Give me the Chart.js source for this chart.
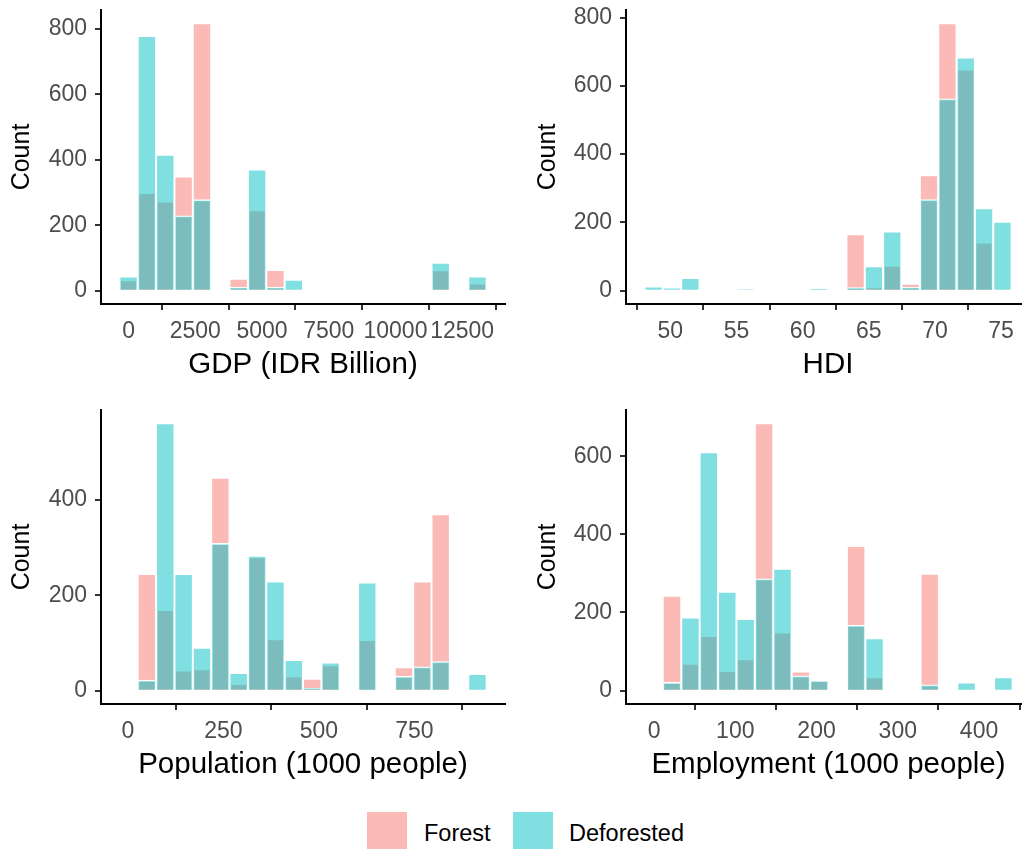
<!DOCTYPE html>
<html><head><meta charset="utf-8">
<script src="https://cdn.jsdelivr.net/npm/chart.js@4"></script>
<style>
html,body{margin:0;padding:0;width:1022px;height:849px;overflow:hidden;background:#fff;}
canvas{position:absolute;}
.sw{position:absolute;width:40px;height:40px;}
.lt{position:absolute;font-family:'Liberation Sans',Arial,sans-serif;font-size:23.5px;color:#000;line-height:26px;}
</style></head><body>
<canvas id="c1" width="511" height="384" style="left:0;top:0"></canvas>
<canvas id="c2" width="529" height="384" style="left:511px;top:0"></canvas>
<canvas id="c3" width="511" height="384" style="left:0;top:400px"></canvas>
<canvas id="c4" width="529" height="384" style="left:511px;top:400px"></canvas>
<div class="sw" style="left:367px;top:812px;background:rgba(248,118,109,0.5)"></div>
<div class="lt" style="left:424px;top:820px">Forest</div>
<div class="sw" style="left:513px;top:812px;background:rgba(0,191,196,0.5)"></div>
<div class="lt" style="left:569px;top:820px">Deforested</div>
<script>
// ---- data ----
const gdpCenters = [0, 688, 1376, 2064, 2752, 3440, 4128, 4816, 5504, 6192, 6880, 7568, 8256, 8944, 9632, 10320, 11008, 11696, 12384, 13072];
const gdpForest = [32, 298, 272, 349, 817, 0, 36, 246, 63, 0, 0, 0, 0, 0, 0, 0, 0, 62, 0, 22];
const gdpDeforested = [43, 778, 415, 229, 278, 0, 11, 370, 11, 33, 0, 0, 0, 0, 0, 0, 0, 85, 0, 43];
const gdpTicks = [0, 2500, 5000, 7500, 10000, 12500];

const hdiCenters = [48.73, 50.12, 51.51, 52.89, 54.28, 55.67, 57.06, 58.45, 59.83, 61.22, 62.61, 64.00, 65.39, 66.77, 68.16, 69.55, 70.94, 72.33, 73.71, 75.10];
const hdiForest = [0, 0, 0, 0, 0, 0, 0, 0, 0, 0, 0, 165, 9, 73, 20, 338, 783, 648, 141, 0];
const hdiDeforested = [12, 7, 37, 0, 0, 3, 0, 0, 0, 5, 0, 9, 71, 173, 10, 267, 562, 683, 241, 202];
const hdiTicks = [50, 55, 60, 65, 70, 75];

const popCenters = [1.52, 49.60, 97.68, 145.76, 193.84, 241.92, 290.00, 338.08, 386.16, 434.24, 482.32, 530.40, 578.48, 626.56, 674.64, 722.72, 770.80, 818.88, 866.96, 915.04];
const popForest = [0, 245, 169, 42, 45, 447, 14, 280, 108, 30, 25, 53, 0, 106, 0, 49, 229, 370, 0, 0];
const popDeforested = [0, 22, 561, 245, 90, 309, 37, 283, 229, 64, 5, 59, 0, 227, 0, 30, 50, 61, 0, 35];
const popTicks = [0, 250, 500, 750];

const empCenters = [-0.56, 22.10, 44.76, 67.42, 90.08, 112.74, 135.40, 158.06, 180.72, 203.38, 226.04, 248.70, 271.36, 294.02, 316.68, 339.34, 362.00, 384.66, 407.32, 429.98];
const empForest = [0, 243, 69, 140, 50, 80, 684, 149, 49, 26, 0, 370, 34, 0, 0, 299, 0, 0, 0, 0];
const empDeforested = [0, 21, 187, 610, 253, 183, 286, 312, 38, 26, 0, 167, 134, 0, 0, 15, 0, 21, 0, 34];
const empTicks = [0, 100, 200, 300, 400];

const countTicksA = [0, 200, 400, 600, 800];
const countTicksB = [0, 200, 400];
const countTicksC = [0, 200, 400, 600];

const seriesNames = ['Forest', 'Deforested'];
const seriesColors = ['rgba(248,118,109,0.5)', 'rgba(0,191,196,0.5)'];

const FONT = 'Liberation Sans';

function makeChart(id, xTitle, centers, forest, deforested, xTicks, yTicks, yAxisWidth, yTitlePad, padRight) {
  const step = centers[1] - centers[0];
  const lo = centers[0] - step / 2, hi = centers[centers.length - 1] + step / 2;
  const ex = (hi - lo) * 0.05;
  const ymax = Math.max(...forest, ...deforested);
  // Forest drawn first (below), Deforested drawn on top
  const mk = (vals, i) => ({
    label: seriesNames[i],
    order: 1 - i,
    data: centers.map((c, k) => ({x: c, y: vals[k]})),
    backgroundColor: seriesColors[i],
    borderColor: '#ffffff',
    borderWidth: 1.3,
    barPercentage: 1,
    categoryPercentage: 1,
    grouped: false
  });
  new Chart(document.getElementById(id), {
    type: 'bar',
    data: {datasets: [mk(forest, 0), mk(deforested, 1)]},
    options: {
      responsive: false, animation: false, devicePixelRatio: 1,
      layout: {padding: {top: 10, right: padRight, left: 0, bottom: 0}},
      plugins: {legend: {display: false}, tooltip: {enabled: false}},
      scales: {
        x: {
          type: 'linear', min: lo - ex, max: hi + ex, offset: false,
          afterFit: s => { s.height = 80; s.paddingLeft = 0; s.paddingRight = 0; },
          afterBuildTicks: s => { s.ticks = xTicks.map(v => ({value: v})); },
          ticks: {autoSkip: false, maxRotation: 0, color: '#4D4D4D', font: {family: FONT, size: 23}, padding: 8, callback: v => String(v)},
          grid: {display: true, drawOnChartArea: false, drawTicks: true, tickLength: 6, color: '#333333', lineWidth: 2},
          border: {display: true, color: '#000000', width: 2},
          title: {display: true, text: xTitle, color: '#000000', font: {family: FONT, size: 29.5}, padding: {top: 0, bottom: 1}}
        },
        y: {
          type: 'linear', min: -0.05 * ymax, max: 1.05 * ymax,
          afterFit: s => { s.width = yAxisWidth; s.paddingTop = 0; s.paddingBottom = 0; },
          afterBuildTicks: s => { s.ticks = yTicks.map(v => ({value: v})); },
          ticks: {color: '#4D4D4D', font: {family: FONT, size: 23}, padding: 8, callback: v => String(v)},
          grid: {display: true, drawOnChartArea: false, drawTicks: true, tickLength: 6, color: '#333333', lineWidth: 2},
          border: {display: true, color: '#000000', width: 2},
          title: {display: true, text: 'Count', color: '#000000', font: {family: FONT, size: 25}, padding: {top: yTitlePad, bottom: 0}}
        }
      }
    }
  });
}

makeChart('c1', 'GDP (IDR Billion)', gdpCenters, gdpForest, gdpDeforested, gdpTicks, countTicksA, 101, 7, 6);
makeChart('c2', 'HDI', hdiCenters, hdiForest, hdiDeforested, hdiTicks, countTicksA, 115, 22, 10);
makeChart('c3', 'Population (1000 people)', popCenters, popForest, popDeforested, popTicks, countTicksB, 101, 7, 6);
makeChart('c4', 'Employment (1000 people)', empCenters, empForest, empDeforested, empTicks, countTicksC, 115, 22, 9);
</script>
</body></html>
